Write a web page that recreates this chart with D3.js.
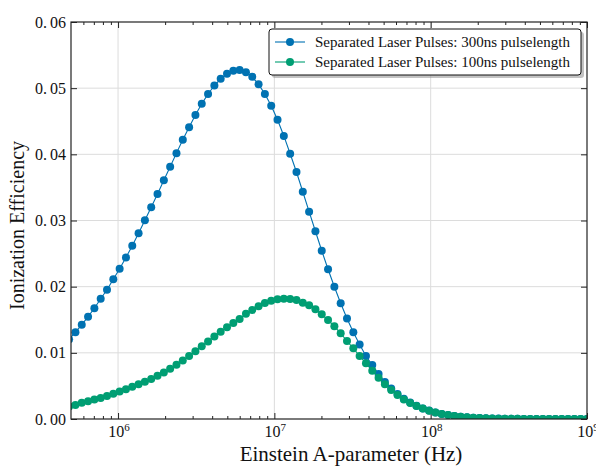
<!DOCTYPE html>
<html>
<head>
<meta charset="utf-8">
<script src="https://cdn.jsdelivr.net/npm/d3@7"></script>
<style>
  html, body { margin: 0; padding: 0; background: #fff; }
  svg { display: block; }
  text { font-family: "Liberation Serif", "DejaVu Serif", serif; fill: #111; }
</style>
</head>
<body>
<div id="chart"></div>
<script>
// ---- data ----
// log10 of Einstein A-parameter (Hz) for each sample
const exponents = [
  5.6869, 5.7273, 5.7677, 5.8081, 5.8485, 5.8889, 5.9293, 5.9697, 6.0101, 6.0505,
  6.0909, 6.1313, 6.1717, 6.2121, 6.2525, 6.2929, 6.3333, 6.3737, 6.4141, 6.4545,
  6.4949, 6.5354, 6.5758, 6.6162, 6.6566, 6.6970, 6.7374, 6.7778, 6.8182, 6.8586,
  6.8990, 6.9394, 6.9798, 7.0202, 7.0606, 7.1010, 7.1414, 7.1818, 7.2222, 7.2626,
  7.3030, 7.3434, 7.3838, 7.4242, 7.4646, 7.5051, 7.5455, 7.5859, 7.6263, 7.6667,
  7.7071, 7.7475, 7.7879, 7.8283, 7.8687, 7.9091, 7.9495, 7.9899, 8.0303, 8.0707,
  8.1111, 8.1515, 8.1919, 8.2323, 8.2727, 8.3131, 8.3535, 8.3939, 8.4343, 8.4747,
  8.5152, 8.5556, 8.5960, 8.6364, 8.6768, 8.7172, 8.7576, 8.7980, 8.8384, 8.8788,
  8.9192, 8.9596, 9.0000
];

const eff300 = [
  0.01204, 0.01312, 0.01424, 0.01546, 0.01673, 0.01817, 0.01953, 0.02111, 0.02270, 0.02441,
  0.02619, 0.02808, 0.03003, 0.03201, 0.03400, 0.03607, 0.03813, 0.04018, 0.04219, 0.04411,
  0.04594, 0.04763, 0.04912, 0.05040, 0.05141, 0.05218, 0.05262, 0.05273, 0.05242, 0.05171,
  0.05058, 0.04912, 0.04733, 0.04522, 0.04278, 0.04009, 0.03733, 0.03434, 0.03133, 0.02837,
  0.02543, 0.02264, 0.01999, 0.01749, 0.01520, 0.01310, 0.01126, 0.00952, 0.00816, 0.00680,
  0.00559, 0.00462, 0.00378, 0.00306, 0.00248, 0.00199, 0.00160, 0.00127, 0.00099, 0.00077,
  0.00060, 0.00046, 0.00035, 0.00026, 0.00020, 0.00015, 0.00011, 0.00008, 0.00006, 0.00004,
  0.00003, 0.00002, 0.000015, 0.00001, 0.00001, 0.00001, 0.000005, 0.000005, 0.000005, 0.000003,
  0.000003, 0.000002, 0.000002
];

const eff100 = [
  0.00189, 0.00210, 0.00245, 0.00270, 0.00293, 0.00318, 0.00346, 0.00380, 0.00415, 0.00450,
  0.00487, 0.00524, 0.00564, 0.00606, 0.00654, 0.00704, 0.00759, 0.00820, 0.00884, 0.00952,
  0.01025, 0.01100, 0.01173, 0.01247, 0.01320, 0.01385, 0.01450, 0.01510, 0.01591, 0.01647,
  0.01703, 0.01753, 0.01788, 0.01809, 0.01818, 0.01813, 0.01798, 0.01758, 0.01718, 0.01658,
  0.01582, 0.01496, 0.01401, 0.01295, 0.01179, 0.01068, 0.00952, 0.00842, 0.00730, 0.00624,
  0.00524, 0.00438, 0.00363, 0.00295, 0.00242, 0.00196, 0.00159, 0.00125, 0.00098, 0.00076,
  0.00060, 0.00045, 0.00035, 0.00026, 0.00019, 0.00014, 0.00010, 0.00007, 0.00005, 0.00004,
  0.00003, 0.00002, 0.000015, 0.00001, 0.00001, 0.000008, 0.000005, 0.000004, 0.000003, 0.000003,
  0.000002, 0.000002, 0.000001
];

const seriesNames = [
  "Separated Laser Pulses: 300ns pulselength",
  "Separated Laser Pulses: 100ns pulselength"
];
const seriesColors = ["#0072B2", "#009E73"];

const xMajorTicks = [1e6, 1e7, 1e8, 1e9];
const xTickExps = ["6", "7", "8", "9"];
const yTicks = [0, 0.01, 0.02, 0.03, 0.04, 0.05, 0.06];
const yTickLabels = ["0.00", "0.01", "0.02", "0.03", "0.04", "0.05", "0.06"];
const xLabel = "Einstein A-parameter (Hz)";
const yLabel = "Ionization Efficiency";

// ---- layout ----
const W = 596, H = 466;
const L = 71, R = 587, T = 22, B = 419;

const svg = d3.select("#chart").append("svg").attr("width", W).attr("height", H);

const x = d3.scaleLog().domain([5e5, 1e9]).range([L, R]);
const y = d3.scaleLinear().domain([0, 0.06]).range([B, T]);

// grid
const grid = svg.append("g");
grid.selectAll("line.gx").data(xMajorTicks.slice(0, 3)).join("line")
  .attr("x1", d => x(d)).attr("x2", d => x(d)).attr("y1", T).attr("y2", B)
  .attr("stroke", "#dcdcdc").attr("stroke-width", 1);
grid.selectAll("line.gy").data(yTicks.slice(1, 6)).join("line")
  .attr("x1", L).attr("x2", R).attr("y1", d => y(d)).attr("y2", d => y(d))
  .attr("stroke", "#dcdcdc").attr("stroke-width", 1);

// minor ticks values
const minor = [];
[5, 6, 7, 8].forEach(e => { for (let m = 2; m <= 9; m++) { const v = m * Math.pow(10, e); if (v > 5e5 && v < 1e9) minor.push(v); } });

function styleAxis(g) {
  g.select(".domain").remove();
  g.selectAll(".tick text").remove();
  g.selectAll(".tick line").attr("stroke", "#222").attr("stroke-width", 1);
}

svg.append("g").attr("transform", `translate(0,${B})`)
  .call(d3.axisBottom(x).tickValues(xMajorTicks).tickSize(-6)).call(styleAxis);
svg.append("g").attr("transform", `translate(0,${B})`)
  .call(d3.axisBottom(x).tickValues(minor).tickSize(-3)).call(styleAxis);
svg.append("g").attr("transform", `translate(0,${T})`)
  .call(d3.axisTop(x).tickValues(xMajorTicks).tickSize(-6)).call(styleAxis);
svg.append("g").attr("transform", `translate(0,${T})`)
  .call(d3.axisTop(x).tickValues(minor).tickSize(-3)).call(styleAxis);
svg.append("g").attr("transform", `translate(${L},0)`)
  .call(d3.axisLeft(y).tickValues(yTicks).tickSize(-6)).call(styleAxis);
svg.append("g").attr("transform", `translate(${R},0)`)
  .call(d3.axisRight(y).tickValues(yTicks).tickSize(-6)).call(styleAxis);

// data
svg.append("defs").append("clipPath").attr("id", "clip")
  .append("rect").attr("x", L).attr("y", T).attr("width", R - L).attr("height", B - T);

const plot = svg.append("g").attr("clip-path", "url(#clip)");
const line = d3.line().x(d => x(Math.pow(10, d[0]))).y(d => y(d[1]));
[eff300, eff100].forEach((vals, i) => {
  const pts = exponents.map((e, j) => [e, vals[j]]);
  const g = plot.append("g");
  g.append("path").datum(pts).attr("d", line)
    .attr("fill", "none").attr("stroke", seriesColors[i]).attr("stroke-width", 1.1);
  g.selectAll("circle").data(pts).join("circle")
    .attr("cx", d => x(Math.pow(10, d[0]))).attr("cy", d => y(d[1]))
    .attr("r", 4).attr("fill", seriesColors[i]);
});

// frame
svg.append("rect").attr("x", L).attr("y", T).attr("width", R - L).attr("height", B - T)
  .attr("fill", "none").attr("stroke", "#222").attr("stroke-width", 1.2);

// tick labels
const yl = svg.append("g");
yTicks.forEach((v, i) => {
  const parts = yTickLabels[i].split(".");
  const t = yl.append("text").attr("x", L - 5).attr("y", y(v)).attr("dy", "0.35em")
    .attr("text-anchor", "end").attr("font-size", 16);
  t.append("tspan").text(parts[0] + ".");
  t.append("tspan").attr("dx", 3).text(parts[1]);
});
const xl = svg.append("g");
xMajorTicks.forEach((v, i) => {
  const t = xl.append("text").attr("x", x(v) + 1).attr("y", B + 18)
    .attr("text-anchor", "middle").attr("font-size", 16);
  t.append("tspan").text("10");
  t.append("tspan").attr("dy", -6).attr("font-size", 11).text(xTickExps[i]);
});

// axis labels
svg.append("text").attr("x", 351).attr("y", 461).attr("text-anchor", "middle")
  .attr("font-size", 21).text(xLabel);
svg.append("text").attr("transform", `translate(24,${(T + B) / 2 + 5}) rotate(-90)`)
  .attr("text-anchor", "middle").attr("font-size", 20).text(yLabel);

// legend
const lg = svg.append("g");
const lx = 269, ly = 29, lw = 312, lh = 46;
lg.append("rect").attr("x", lx + 3).attr("y", ly + 3).attr("width", lw).attr("height", lh)
  .attr("rx", 3).attr("fill", "#888").attr("opacity", 0.5);
lg.append("rect").attr("x", lx).attr("y", ly).attr("width", lw).attr("height", lh)
  .attr("rx", 3).attr("fill", "#fff").attr("stroke", "#111").attr("stroke-width", 1);
seriesNames.forEach((name, i) => {
  const cy = ly + 13 + i * 20;
  lg.append("line").attr("x1", lx + 6).attr("x2", lx + 36).attr("y1", cy).attr("y2", cy)
    .attr("stroke", seriesColors[i]).attr("stroke-width", 1.1);
  lg.append("circle").attr("cx", lx + 21).attr("cy", cy).attr("r", 4).attr("fill", seriesColors[i]);
  lg.append("text").attr("x", lx + 46).attr("y", cy).attr("dy", "0.35em")
    .attr("font-size", 15).text(name);
});
</script>
</body>
</html>
